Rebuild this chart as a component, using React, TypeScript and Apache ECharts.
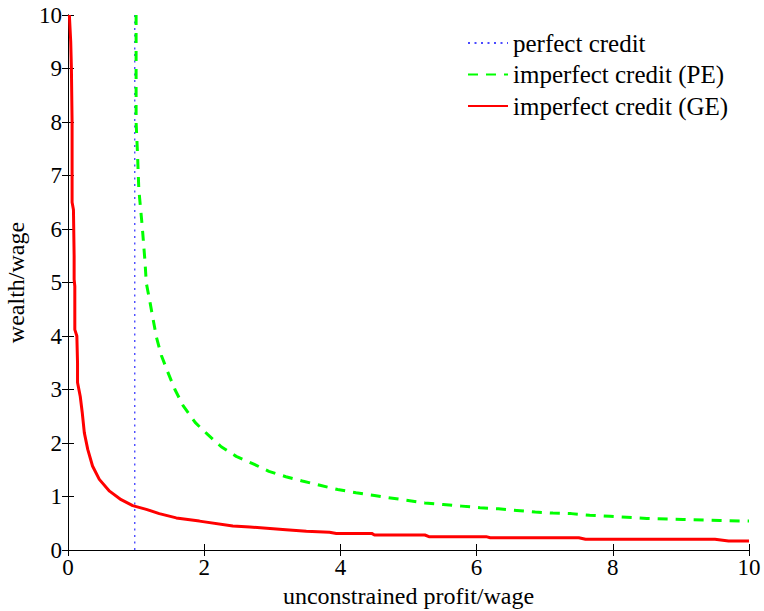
import React, { useEffect, useRef } from "react";
import * as echarts from "echarts";

const perfectX = [0.98, 0.98];
const perfectY = [0, 10];

const peX = [1.0, 1.0, 1.02, 1.04, 1.09, 1.13, 1.15, 1.2, 1.25, 1.3, 1.37, 1.47, 1.57, 1.69, 1.87, 2.05, 2.25, 2.47, 2.72, 2.95, 3.2, 3.44, 3.7, 3.96, 4.23, 4.5, 4.7, 4.97, 5.24, 5.51, 5.78, 6.05, 6.32, 6.59, 6.86, 7.12, 7.39, 7.66, 7.96, 8.5, 9.03, 9.57, 10];
const peY = [10, 8, 7.43, 6.74, 6.05, 5.4, 4.99, 4.66, 4.31, 3.97, 3.64, 3.31, 3.0, 2.7, 2.38, 2.16, 1.93, 1.75, 1.61, 1.47, 1.37, 1.29, 1.21, 1.13, 1.07, 1.02, 0.98, 0.93, 0.88, 0.85, 0.82, 0.79, 0.77, 0.74, 0.71, 0.69, 0.68, 0.65, 0.63, 0.59, 0.57, 0.55, 0.54];

const geX = [0.02, 0.04, 0.05, 0.06, 0.06, 0.06, 0.08, 0.09, 0.09, 0.1, 0.1, 0.1, 0.13, 0.14, 0.14, 0.18, 0.21, 0.24, 0.29, 0.36, 0.46, 0.61, 0.78, 0.95, 1.15, 1.34, 1.59, 1.93, 2.42, 2.67, 3.2, 3.5, 3.84, 3.94, 4.46, 4.5, 5.24, 5.3, 6.14, 6.2, 7.5, 7.6, 9.5, 9.7, 10];
const geY = [10, 9.5, 9, 8, 7, 6.5, 6.36, 5.5, 5.06, 4.93, 4.5, 4.12, 4.0, 3.5, 3.13, 2.87, 2.56, 2.19, 1.88, 1.57, 1.32, 1.1, 0.94, 0.83, 0.76, 0.68, 0.6, 0.54, 0.45, 0.43, 0.38, 0.35, 0.33, 0.31, 0.31, 0.28, 0.28, 0.25, 0.25, 0.23, 0.23, 0.2, 0.2, 0.17, 0.17];

const seriesNames = ["perfect credit", "imperfect credit (PE)", "imperfect credit (GE)"];

const zip = (xs: number[], ys: number[]) => xs.map((x, i) => [x, ys[i]]);

const FONT = "Liberation Serif";

export default function App() {
  const ref = useRef<HTMLDivElement>(null);
  useEffect(() => {
    if (!ref.current) return;
    const chart = echarts.init(ref.current, null, { renderer: "svg" });
    const axisLine = { show: true, lineStyle: { color: "#000", width: 1 } };
    const tick = { show: true, inside: true, length: 6, lineStyle: { color: "#000" } };
    chart.setOption({
      animation: false,
      backgroundColor: "#fff",
      textStyle: { fontFamily: FONT },
      grid: { left: 68, top: 15, width: 681, height: 535, containLabel: false, outerBoundsMode: "none" },
      legend: {
        orient: "vertical",
        left: 462,
        top: 25.5,
        itemWidth: 40,
        itemHeight: 14,
        itemGap: 6.5,
        itemStyle: { opacity: 0 },
        textStyle: { fontFamily: FONT, fontSize: 25, color: "#000" },
        data: seriesNames,
      },
      xAxis: [
        {
          type: "value",
          min: 0,
          max: 10,
          interval: 2,
          name: "unconstrained profit/wage",
          nameLocation: "middle",
          nameGap: 31,
          nameTextStyle: { fontFamily: FONT, fontSize: 24, color: "#000" },
          axisLine,
          axisTick: tick,
          axisLabel: { fontFamily: FONT, fontSize: 23, color: "#000", margin: 6 },
          splitLine: { show: false },
        },
        {
          type: "value",
          position: "top",
          min: 0,
          max: 10,
          interval: 2,
          axisLine,
          axisTick: tick,
          axisLabel: { show: false },
          splitLine: { show: false },
        },
      ],
      yAxis: [
        {
          type: "value",
          min: 0,
          max: 10,
          interval: 1,
          name: "wealth/wage",
          nameLocation: "middle",
          nameGap: 34,
          nameTextStyle: { fontFamily: FONT, fontSize: 24, color: "#000" },
          axisLine,
          axisTick: tick,
          axisLabel: { fontFamily: FONT, fontSize: 23, color: "#000", margin: 6 },
          splitLine: { show: false },
        },
        {
          type: "value",
          position: "right",
          min: 0,
          max: 10,
          interval: 1,
          axisLine,
          axisTick: tick,
          axisLabel: { show: false },
          splitLine: { show: false },
        },
      ],
      series: [
        {
          name: seriesNames[0],
          type: "line",
          data: zip(perfectX, perfectY),
          showSymbol: false,
          symbol: "none",
          clip: true,
          lineStyle: { color: "#4a4aff", width: 1.4, type: [2, 4.5] },
          itemStyle: { color: "#4a4aff" },
        },
        {
          name: seriesNames[1],
          type: "line",
          data: zip(peX, peY),
          showSymbol: false,
          symbol: "none",
          clip: true,
          lineStyle: { color: "#00ff00", width: 3, type: [10, 8] },
          itemStyle: { color: "#00ff00" },
        },
        {
          name: seriesNames[2],
          type: "line",
          data: zip(geX, geY),
          showSymbol: false,
          symbol: "none",
          clip: true,
          lineStyle: { color: "#ff0000", width: 3 },
          itemStyle: { color: "#ff0000" },
        },
      ],
    });
    return () => chart.dispose();
  }, []);
  return <div ref={ref} style={{ width: 764, height: 611, position: "absolute", left: 0, top: 0 }} />;
}
